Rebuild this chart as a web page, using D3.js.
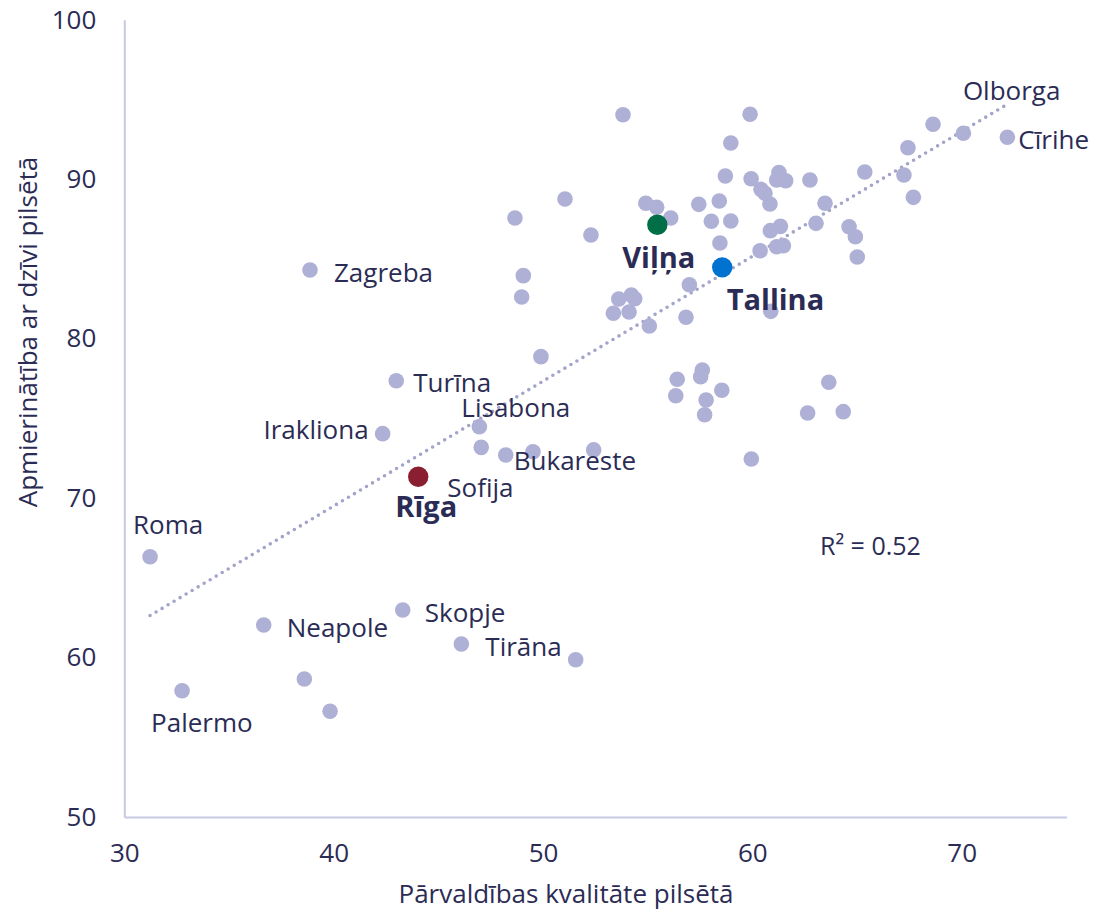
<!DOCTYPE html>
<html>
<head>
<meta charset="utf-8">
<script src="https://cdn.jsdelivr.net/npm/d3@7"></script>
<style>
  html, body { margin: 0; padding: 0; background: #fff; }
  svg text { font-family: "Open Sans", "Noto Sans", sans-serif; }
</style>
</head>
<body>
<svg id="chart" width="1094" height="909"></svg>
<script>
// ---- DATA ----
const cityNames = [
  "Roma","Palermo","Neapole","","","Zagreba","Turīna","Irakliona","Rīga","Skopje",
  "Tirāna","","Lisabona","Sofija","Bukareste","","","","","",
  "","","","","","","","","","",
  "","","","Viļņa","","","","","","",
  "","","","Tallina","","","","","","",
  "","","","","","","","","","",
  "","","","","","","","","","Olborga",
  "Cīrihe","","","","","","","","","",
  ""
];
const governance = [
  31.23,32.76,36.66,38.60,39.83,38.87,42.99,42.34,44.04,43.30,
  46.10,51.56,46.96,47.05,48.22,49.52,52.42,49.90,48.98,49.06,
  48.66,51.05,52.29,53.82,53.36,53.62,54.11,54.22,54.38,55.08,
  54.91,55.43,56.10,55.46,57.44,56.99,56.83,58.04,58.45,58.42,
  58.71,58.97,58.97,58.56,59.89,59.94,60.41,60.60,60.84,60.37,
  60.86,61.27,61.16,61.59,61.16,61.48,61.34,60.88,62.75,63.47,
  63.04,64.62,64.92,65.01,65.37,67.24,67.43,67.69,68.63,70.08,
  72.18,56.41,56.34,57.61,57.53,57.79,57.72,58.54,63.65,62.64,
  64.34,59.95
];
const satisfaction = [
  66.32,57.92,62.04,58.65,56.63,84.30,77.36,74.04,71.34,62.98,
  60.85,59.86,74.48,73.18,72.70,72.91,73.02,78.87,82.61,83.95,
  87.56,88.76,86.50,94.04,81.59,82.48,81.67,82.74,82.50,80.79,
  88.49,88.24,87.56,87.14,88.42,83.38,81.34,87.36,86.00,88.63,
  90.20,92.27,87.38,84.47,94.07,90.03,89.36,89.11,88.44,85.51,
  86.77,90.41,89.95,89.90,85.76,85.83,87.04,81.71,89.95,88.49,
  87.23,87.02,86.39,85.12,90.45,90.26,91.97,88.86,93.44,92.88,
  92.63,77.45,76.42,78.03,77.61,76.15,75.23,76.76,77.26,75.34,
  75.42,72.45
];
const highlighted = ["Rīga","Viļņa","Tallina"];
const xTicks = [30,40,50,60,70];
const yTicks = [50,60,70,80,90,100];
const trendSlope = 0.783;
const trendIntercept = 38.18;
const rSquaredLabel = "R² = 0.52";
const xTitle = "Pārvaldības kvalitāte pilsētā";
const yTitle = "Apmierinātība ar dzīvi pilsētā";

// ---- LAYOUT / STYLE ----
const textColor = "#2b2c55";
const pointColor = "#afb0d6";
const axisColor = "#c8cae3";
const trendColor = "#a3a4cc";
const highlightColor = { "Rīga": "#8a1f31", "Viļņa": "#006f47", "Tallina": "#0072cf" };
// label offsets from point centre: [dx, dy, anchor]
const labelOffset = {
  "Roma": [-17, -33, "start"],
  "Palermo": [-31, 31, "start"],
  "Neapole": [23, 2, "start"],
  "Skopje": [22, 2, "start"],
  "Tirāna": [24, 2, "start"],
  "Zagreba": [24, 2, "start"],
  "Turīna": [17, 1, "start"],
  "Lisabona": [-18, -20, "start"],
  "Irakliona": [-14, -5, "end"],
  "Bukareste": [8, 5, "start"],
  "Sofija": [-34, 40, "start"],
  "Rīga": [8, 29, "middle"],
  "Viļņa": [1.5, 32, "middle"],
  "Tallina": [4.5, 31, "start"],
  "Olborga": [-0.5, -43, "start"],
  "Cīrihe": [11, 2, "start"]
};
const fontSize = 26, boldSize = 29;

const svg = d3.select("#chart");
const x = d3.scaleLinear().domain([30, 75]).range([124.3, 1066.4]);
const y = d3.scaleLinear().domain([50, 100]).range([817, 19.7]);

// axes
const xAxis = svg.append("g").attr("transform", `translate(0,${y(50)})`)
  .call(d3.axisBottom(x).tickValues(xTicks).tickSize(0).tickPadding(27));
const yAxis = svg.append("g").attr("transform", `translate(${x(30)},0)`)
  .call(d3.axisLeft(y).tickValues(yTicks).tickSize(0).tickPadding(28));
[xAxis, yAxis].forEach(g => {
  g.select(".domain").attr("stroke", axisColor).attr("stroke-width", 2);
  g.selectAll("text").attr("fill", textColor).style("font-size", fontSize + "px")
    .style("font-family", "'Open Sans', sans-serif");
});

// axis titles
svg.append("text").attr("x", 566).attr("y", 893).attr("text-anchor", "middle")
  .attr("dominant-baseline", "central")
  .attr("fill", textColor).style("font-size", fontSize + "px").text(xTitle);
svg.append("text").attr("transform", "translate(27,332) rotate(-90)")
  .attr("text-anchor", "middle").attr("dominant-baseline", "central")
  .attr("fill", textColor).style("font-size", fontSize + "px").text(yTitle);

// trend line
const xMin = d3.min(governance), xMax = d3.max(governance);
svg.append("line")
  .attr("x1", x(xMin)).attr("y1", y(trendIntercept + trendSlope * xMin))
  .attr("x2", x(xMax)).attr("y2", y(trendIntercept + trendSlope * xMax))
  .attr("stroke", trendColor).attr("stroke-width", 3.6)
  .attr("stroke-linecap", "round").attr("stroke-dasharray", "0,7");

const data = governance.map((g, i) => ({ name: cityNames[i], gx: g, sy: satisfaction[i] }));
const normal = data.filter(d => !highlighted.includes(d.name));
const hi = data.filter(d => highlighted.includes(d.name));

svg.append("g").selectAll("circle").data(normal).join("circle")
  .attr("cx", d => x(d.gx)).attr("cy", d => y(d.sy)).attr("r", 7.8)
  .attr("fill", pointColor);

svg.append("g").selectAll("circle").data(hi).join("circle")
  .attr("cx", d => x(d.gx)).attr("cy", d => y(d.sy)).attr("r", 10.2)
  .attr("fill", d => highlightColor[d.name]);

// labels
svg.append("g").selectAll("text").data(data.filter(d => d.name)).join("text")
  .attr("x", d => x(d.gx) + labelOffset[d.name][0])
  .attr("y", d => y(d.sy) + labelOffset[d.name][1])
  .attr("text-anchor", d => labelOffset[d.name][2])
  .attr("dominant-baseline", "central")
  .attr("fill", textColor)
  .style("font-size", d => (highlighted.includes(d.name) ? boldSize : fontSize) + "px")
  .style("font-weight", d => highlighted.includes(d.name) ? "700" : "400")
  .text(d => d.name);

// R squared
svg.append("text").attr("x", 820).attr("y", 545).attr("dominant-baseline", "central")
  .attr("fill", textColor).style("font-size", "25px").text(rSquaredLabel);
</script>
</body>
</html>
